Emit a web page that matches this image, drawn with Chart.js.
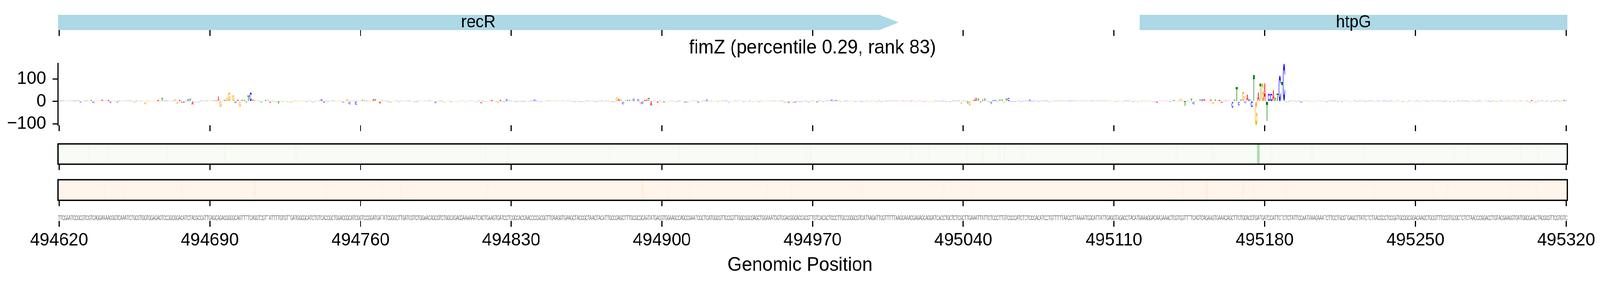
<!DOCTYPE html>
<html>
<head>
<meta charset="utf-8">
<title>fimZ</title>
<script src="https://cdn.jsdelivr.net/npm/chart.js@4/dist/chart.umd.js"></script>
<style>
html, body { margin: 0; padding: 0; background: #fff; overflow: hidden; }
#page { position: absolute; left: 0; top: 0; width: 4320px; height: 720px; transform-origin: 0 0; }
.track { position: absolute; left: 0; width: 4320px; }
</style>
</head>
<body>
<div id="page">
<div class="track" style="top:0;height:100px"><canvas id="genes"></canvas></div>
<div class="track" style="top:90px;height:250px"><canvas id="logo"></canvas></div>
<div class="track" style="top:360px;height:80px"><canvas id="heatGreen"></canvas></div>
<div class="track" style="top:450px;height:85px"><canvas id="heatOrange"></canvas></div>
<div class="track" style="top:540px;height:180px"><canvas id="sequence"></canvas></div>
</div>
<script>
const firstPosition = 494620;
const tickPositions = [494620, 494690, 494760, 494830, 494900, 494970, 495040, 495110, 495180, 495250, 495320];
const logoTicks = [-100, 0, 100];
const titleText = "fimZ (percentile 0.29, rank 83)";
const xTitle = "Genomic Position";

const geneNames = ["recR", "htpG"];
const geneStarts = [494600, 495122];
const geneHeads = [495001, null];
const geneEnds = [495010, 495340];

// one base per position
const sequence = [
    "TTCGAATCCGCGTCGTCAGGAAAACGGTCAAATCTGCGTGGTGGAGAGTCCGGCGGACATCTACGCCATTGAGCAGACGGGGCAGTTTTCAGGTCGTTATTTTGTGTTGATGGGGCATCTGTCACCGCTGGACGGCATCGGTCCG",
    "GATGATATCGGGCTTGATCGTCTGGAACAGCGTCTGGCAGAGGAAAAAATCACTGAAGTGATCCTCGCCACCAACCCCACG",
    "GTTGAAGGTGAAGCTACCGCTAACTACATTGCCGAGCTTTGCGCGCAATATGACGTGGAAGCCAGCCGAATCGCTCATGGCGT",
    "TCCGGTTGGCGGCGAGCTGGAAATGGTCGACGGCACCACGTTGTCACACTCCCTTGCCGGGCGTCATAAGATTCGTTT",
    "TTAAGCAAACGAGAGCAGGATCACCTGCTCTCGCTTGAAATTATTCTCCCTTGTCCCCATCTCTCCCACATCCTGTTTTTA",
    "ACCTTAAAATGGCATTATTGAGGTAGACCTACATGAAAGGACAAGAAACTCGTGGTTTTCAGTCAGAAGTGAAACAGCTTCTG",
    "CACCTGATGATCCATTCTCTCTATTCCAATAAAGAAATCTTCCTGCGTGAGCTTATCTCTAACGCCTCCGATGCGGCGGACAAGCTGCGTTTCCGTGCGCTCTCTAACCCGGACCTGTACGAAGGTGATGGCGAACTACGCGTTCGTGTC"
].join("");

// attribution per position, ten to a line
const attribution = [
    1,1,1,1,1,1,1,1,1,6,
    -6,1,3,1,2,6,-8,1,4,1.5,
    7,1.5,1.5,5,-7,1,1.5,-5,1,2,
    3,1,1.5,1,4,-5,1,-4,1,3,
    -12,3,1.5,3,3,4,5,1,14,1,
    1.5,2,3,1.5,9,-10,6,-5,-5,3,
    10,12,-14,-3,-2,-3,3,1,1,1,
    4,3,5,1,20,-25,1,5,14,39,
    3,29,-7,7,-24,6,5,-9,25,40,
    7,6,1,1,-6,1,6,5,-7,1,
    -1,-4,-11,1,-1,1,-2,-3,-6,3,
    3,-1,1,1,4,-2,1,1,-3,1,
    1,3,9,-6,2,-2,1,1,1,1,
    1,1,-5,3,12,-12,1,4,-14,3,
    1,5,3,2,3,1,13,10,-1,-9,
    5,3,3,-2,-5,3,1,1,-2,1,
    -2,1,1,1,-2,-1,-1,1,1,1,
    1,1,1,1,1,-8,1,3,1,-3,
    3,1.5,-1,-2,-2,-1,1,3,1,-4,
    1,1,3,1,-3,1,-8,1,-2,-3,
    1,5,1,-2,-7,5,-2,-1,9,3,
    1,1,-1,-2,1,-1,1,-2,-1,3,
    3,7,1,-1,-1,1,1,1,1,1,
    1,1,1,1,1,1,1,1,1,-1,
    -1,1,-1.5,-1,-3,1,1,1,1,-1,
    -2,1,1,-1,1,2,-2,-1,-1,17,
    11,11,-12,3,5,5,1,11,-3,10,
    -13,-11,5,13,14,-20,3,1,-5,1.5,
    -4,-5,3,-3,1,2,-2,-2,1,1,
    -2,-5,-4,2,1,1,4,-6,-3,2,
    2,7,-1,1,-1,1,-1,1,1,1,
    1,-3,1,-1.5,1,1,1,3,-1.5,2,
    -1,1,-1,-1,1,-2,1,-2,2,1,
    1,2,1,-1,1,1,4,-6,-3,-8,
    1,-5,-5,1,-2,-1,4,1,-6,1,
    1,3,-5,1,3,-1,3,1,3,7,
    1,5,1,-2,-1,1,1,-1.5,1,1,
    -2,1,1,-2,-2,1,-1,1,1,1,
    -1,2,-1,1,2,1.5,1,1,1,1,
    1,1,1,1.5,1,-1,1,1,-2,2,
    1,1,-1,3,-2,-2,-3,1,1,-2,
    1,1,-1,-1,-1,1,2,1,2,-10,
    2,3,-11,-18,1,7,16,12,-5,7,
    13,2,-2,-13,6,5,-2,8,7,-8,
    12,14,-1,-1,-1,2,1,-1,2,4,
    1,8,-1,1,1,-1,1,1,1,2,
    -1,1,1,1,1,1,1,1,1,1,
    1,1,1,1,1,1,1,1,1,1,
    1,1,1,1,1,1,1,1,1,1,
    -1,-1,1,1,-3,1,1,1,1,-1,
    1,-1,1,1,1,1,1,1,-2,-2,
    -6,3,2,1,1,1,-2,1.5,5,-1,
    1,11,1,-20,1,-3,12,-12,1,1,
    8,10,12,3,1,11,-10,8,4,6,
    -7,1,2,1.5,2,-29,8,64,-17,8,
    43,-7,31,10,-25,119,-105,39,79,81,
    83,-87,36,36,51,14,35,115,87,167,
    -3,-1,1,2,1,-1,1,-5,1,2,
    2,-1,1,-2,4,1,1,1,-2,-2,
    2,1,3,1,-1,1,-2,1,1,1,
    -1,2,1,-2,1,1,1,-1,2,1,
    1,-2,1,3,-1,1,1,-1,1,2,
    -1,1,1,2,-1,1,-3,1,2,-1,
    3,1,-2,1,1,2,-1,1,1,-2,
    1,1,2,-1,1,3,-2,1,-1,2,
    1,-1,1,1,2,-1,1,3,-2,1,
    1,-3,2,1,1,-1,1,2,-1,1,
    1,-2,4,1,-1,2,1,-4,1,3,
    2,-1,1,-6,5,2,-3,1,4,1,
    -2,1,3,-1,1,2,5,-1,3,5,
    2
];

// the two score strips are almost flat, so only the visible stripes are listed
const greenIndex = [14,23,50,77,110,111,196,198,208,209,256,288,324,347,349,396,404,422,429,437,439,447,448,485,519,536,557,563,582,606,648,654,679,687];
const greenScore = [.02,.02,.02,.04,.02,.02,.02,.02,.02,.02,.015,.02,.015,.02,.02,.02,.02,.02,.035,.02,.035,.02,.02,.02,.02,.02,.34,.02,.02,.02,.02,.02,.02,.02];
const orangeIndex = [21,30,57,91,124,150,159,199,271,283,293,329,340,373,411,424,522,533,550,555,570,611,638,645,674,686];
const orangeScore = [.02,.02,.02,.05,.015,.02,.02,.015,.05,.02,.02,.015,.015,.02,.015,.015,.025,.05,.03,.02,.015,.015,.015,.015,.015,.015];

const FONT = "'Liberation Sans'";
const LEFT = 156.5;
const RIGHT = 4320 - 4231.5;
const letterColors = { A: "#ff0000", C: "#0000ff", G: "#ffa500", T: "#008000" };
const greens = [[247,252,245],[229,245,224],[199,233,192],[161,217,155],[116,196,118]];
const oranges = [[255,245,235],[254,230,206],[253,208,162],[253,174,107],[253,141,60]];
const positions = Array.from(sequence, (_, i) => firstPosition + i);

// the browser window can come out narrower than the figure, so squeeze it to fit
document.getElementById("page").style.transform = `scaleX(${Math.min(1, window.innerWidth / 4320)})`;

function rampColor(ramp, value) {
    const t = Math.min(value / 0.125, ramp.length - 1.001);
    const k = Math.floor(t);
    const c = ramp[k].map((v, j) => Math.round(v + (ramp[k + 1][j] - v) * (t - k)));
    return `rgb(${c[0]},${c[1]},${c[2]})`;
}

function spread(indexes, scores) {
    const out = positions.map(() => 0);
    indexes.forEach((idx, k) => { out[idx] = scores[k]; });
    return out;
}

// stretches one glyph into the box of its bar
function drawGlyph(ctx, letter, left, top, width, height, weight) {
    if (height <= 0) return;
    ctx.save();
    ctx.font = `${weight} 100px ${FONT}`;
    ctx.textAlign = "left";
    ctx.textBaseline = "alphabetic";
    const m = ctx.measureText(letter);
    const w = m.actualBoundingBoxLeft + m.actualBoundingBoxRight;
    const h = m.actualBoundingBoxAscent + m.actualBoundingBoxDescent;
    ctx.translate(left, top);
    ctx.scale(width / w, height / h);
    ctx.fillText(letter, m.actualBoundingBoxLeft, m.actualBoundingBoxAscent);
    ctx.restore();
}

const lettersPlugin = {
    id: "letters",
    afterDatasetsDraw(chart, args, opts) {
        const ctx = chart.ctx;
        chart.getDatasetMeta(0).data.forEach((bar, i) => {
            const p = bar.getProps(["x", "y", "base", "width"], true);
            ctx.fillStyle = opts.color || letterColors[sequence[i]];
            drawGlyph(ctx, sequence[i], p.x - p.width / 2, Math.min(p.y, p.base), p.width, Math.abs(p.base - p.y), opts.weight || "bold");
        });
    }
};

const stripBackground = {
    id: "stripBackground",
    beforeDatasetsDraw(chart, args, opts) {
        const a = chart.chartArea;
        chart.ctx.fillStyle = opts.color;
        chart.ctx.fillRect(a.left, a.top, a.width, a.height);
    },
    afterDatasetsDraw(chart) {
        const a = chart.chartArea;
        chart.ctx.strokeStyle = "#000";
        chart.ctx.lineWidth = 3.5;
        chart.ctx.strokeRect(a.left, a.top, a.width, a.height);
    }
};

const genePlugin = {
    id: "genes",
    afterDatasetsDraw(chart) {
        const ctx = chart.ctx, a = chart.chartArea, x = chart.scales.x, y = chart.scales.y;
        ctx.save();
        ctx.beginPath();
        ctx.rect(a.left, a.top, a.width, a.height);
        ctx.clip();
        ctx.fillStyle = "lightblue";
        geneNames.forEach((name, i) => {
            const x0 = x.getPixelForValue(geneStarts[i]);
            const x1 = x.getPixelForValue(geneEnds[i]);
            ctx.beginPath();
            ctx.moveTo(x0, y.getPixelForValue(1));
            if (geneHeads[i] !== null) {
                ctx.lineTo(x.getPixelForValue(geneHeads[i]), y.getPixelForValue(1));
                ctx.lineTo(x1, y.getPixelForValue(0));
                ctx.lineTo(x.getPixelForValue(geneHeads[i]), y.getPixelForValue(-1));
            } else {
                ctx.lineTo(x1, y.getPixelForValue(1));
                ctx.lineTo(x1, y.getPixelForValue(-1));
            }
            ctx.lineTo(x0, y.getPixelForValue(-1));
            ctx.closePath();
            ctx.fill();
        });
        ctx.restore();
        ctx.fillStyle = "#000";
        ctx.font = `44px ${FONT}`;
        ctx.textAlign = "center";
        ctx.textBaseline = "middle";
        geneNames.forEach((name, i) => {
            const x0 = Math.max(x.getPixelForValue(geneStarts[i]), a.left);
            const x1 = Math.min(x.getPixelForValue(geneEnds[i]), a.right);
            ctx.fillText(name, (x0 + x1) / 2, y.getPixelForValue(0));
        });
    }
};

function xAxis(height, extra) {
    return Object.assign({
        type: "linear",
        min: firstPosition - 0.5,
        max: firstPosition + 700.5,
        offset: false,
        border: { display: false },
        grid: { offset: false, drawOnChartArea: false, drawTicks: true, tickLength: 15, tickWidth: 3, tickColor: "#000" },
        ticks: { display: false },
        afterBuildTicks: s => { s.ticks = tickPositions.map(v => ({ value: v })); },
        afterFit: s => { s.height = height; s.paddingLeft = 0; s.paddingRight = 0; }
    }, extra);
}

function track(id, o) {
    return new Chart(document.getElementById(id), {
        type: "bar",
        data: {
            datasets: [{
                data: o.values.map((v, i) => ({ x: positions[i], y: v })),
                backgroundColor: o.barColors || "rgba(0,0,0,0)",
                borderWidth: 0,
                categoryPercentage: 1,
                barPercentage: o.barPercentage || 1,
                minBarLength: o.minBarLength || 0
            }]
        },
        options: {
            animation: false,
            responsive: false,
            devicePixelRatio: 1,
            events: [],
            layout: { padding: { left: o.left === undefined ? LEFT : o.left, right: RIGHT, top: o.top, bottom: 0 } },
            scales: { x: o.x, y: o.y },
            plugins: Object.assign({ legend: { display: false }, tooltip: { enabled: false } }, o.plugins)
        },
        plugins: o.extraPlugins || []
    });
}

function sizeCanvas(id, h) {
    const c = document.getElementById(id);
    c.width = 4320;
    c.height = h;
    c.style.width = "4320px";
    c.style.height = h + "px";
}

sizeCanvas("genes", 100);
sizeCanvas("logo", 250);
sizeCanvas("heatGreen", 80);
sizeCanvas("heatOrange", 85);
sizeCanvas("sequence", 180);

const flatY = { display: false, min: 0, max: 1 };

track("genes", {
    values: positions.map(() => 0),
    top: 38,
    x: xAxis(23),
    y: { display: false, min: -1, max: 1 },
    extraPlugins: [genePlugin]
});

track("logo", {
    values: attribution,
    top: 0,
    left: 0,
    barPercentage: 0.95,
    minBarLength: 1.3,
    x: xAxis(19),
    y: {
        min: -106,
        max: 170,
        border: { display: true, color: "#000", width: 3 },
        grid: { drawOnChartArea: false, drawTicks: true, tickLength: 15, tickWidth: 3, tickColor: "#000" },
        ticks: {
            autoSkip: false,
            color: "#000",
            padding: 17,
            font: { family: FONT, size: 47 },
            callback: v => String(v).replace("-", "\u2212")
        },
        afterBuildTicks: s => { s.ticks = logoTicks.map(v => ({ value: v })); },
        afterFit: s => { s.width = LEFT; s.paddingTop = 0; s.paddingBottom = 0; }
    },
    plugins: {
        letters: {},
        title: {
            display: true,
            fullSize: false,
            text: titleText,
            color: "#000",
            font: { family: FONT, size: 50, weight: "normal" },
            padding: { top: 3, bottom: 9 }
        }
    },
    extraPlugins: [lettersPlugin]
});

track("heatGreen", {
    values: positions.map(() => 1),
    barColors: spread(greenIndex, greenScore).map(v => v > 0 ? rampColor(greens, v) : "rgba(0,0,0,0)"),
    top: 8.7,
    x: xAxis(19.3),
    y: flatY,
    plugins: { stripBackground: { color: rampColor(greens, 0) } },
    extraPlugins: [stripBackground]
});

track("heatOrange", {
    values: positions.map(() => 1),
    barColors: spread(orangeIndex, orangeScore).map(v => v > 0 ? rampColor(oranges, v) : "rgba(0,0,0,0)"),
    top: 10.5,
    x: xAxis(21.7),
    y: flatY,
    plugins: { stripBackground: { color: rampColor(oranges, 0) } },
    extraPlugins: [stripBackground]
});

// equal side padding here so the axis title centres on the whole figure
track("sequence", {
    values: positions.map(() => 1),
    top: 12,
    left: RIGHT,
    x: xAxis(74, {
        ticks: {
            display: true,
            autoSkip: false,
            maxRotation: 0,
            color: "#000",
            padding: 7,
            font: { family: FONT, size: 47 },
            callback: v => String(v)
        }
    }),
    y: {
        min: -0.15,
        max: 1,
        border: { display: false },
        grid: { display: false },
        ticks: { display: false },
        afterFit: s => { s.width = LEFT - RIGHT; s.paddingTop = 0; s.paddingBottom = 0; }
    },
    plugins: {
        letters: { color: "#606060", weight: "normal" },
        title: {
            display: true,
            position: "bottom",
            text: xTitle,
            color: "#000",
            font: { family: FONT, size: 50, weight: "normal" },
            padding: { top: 10, bottom: 10 }
        }
    },
    extraPlugins: [lettersPlugin]
});
</script>
</body>
</html>
